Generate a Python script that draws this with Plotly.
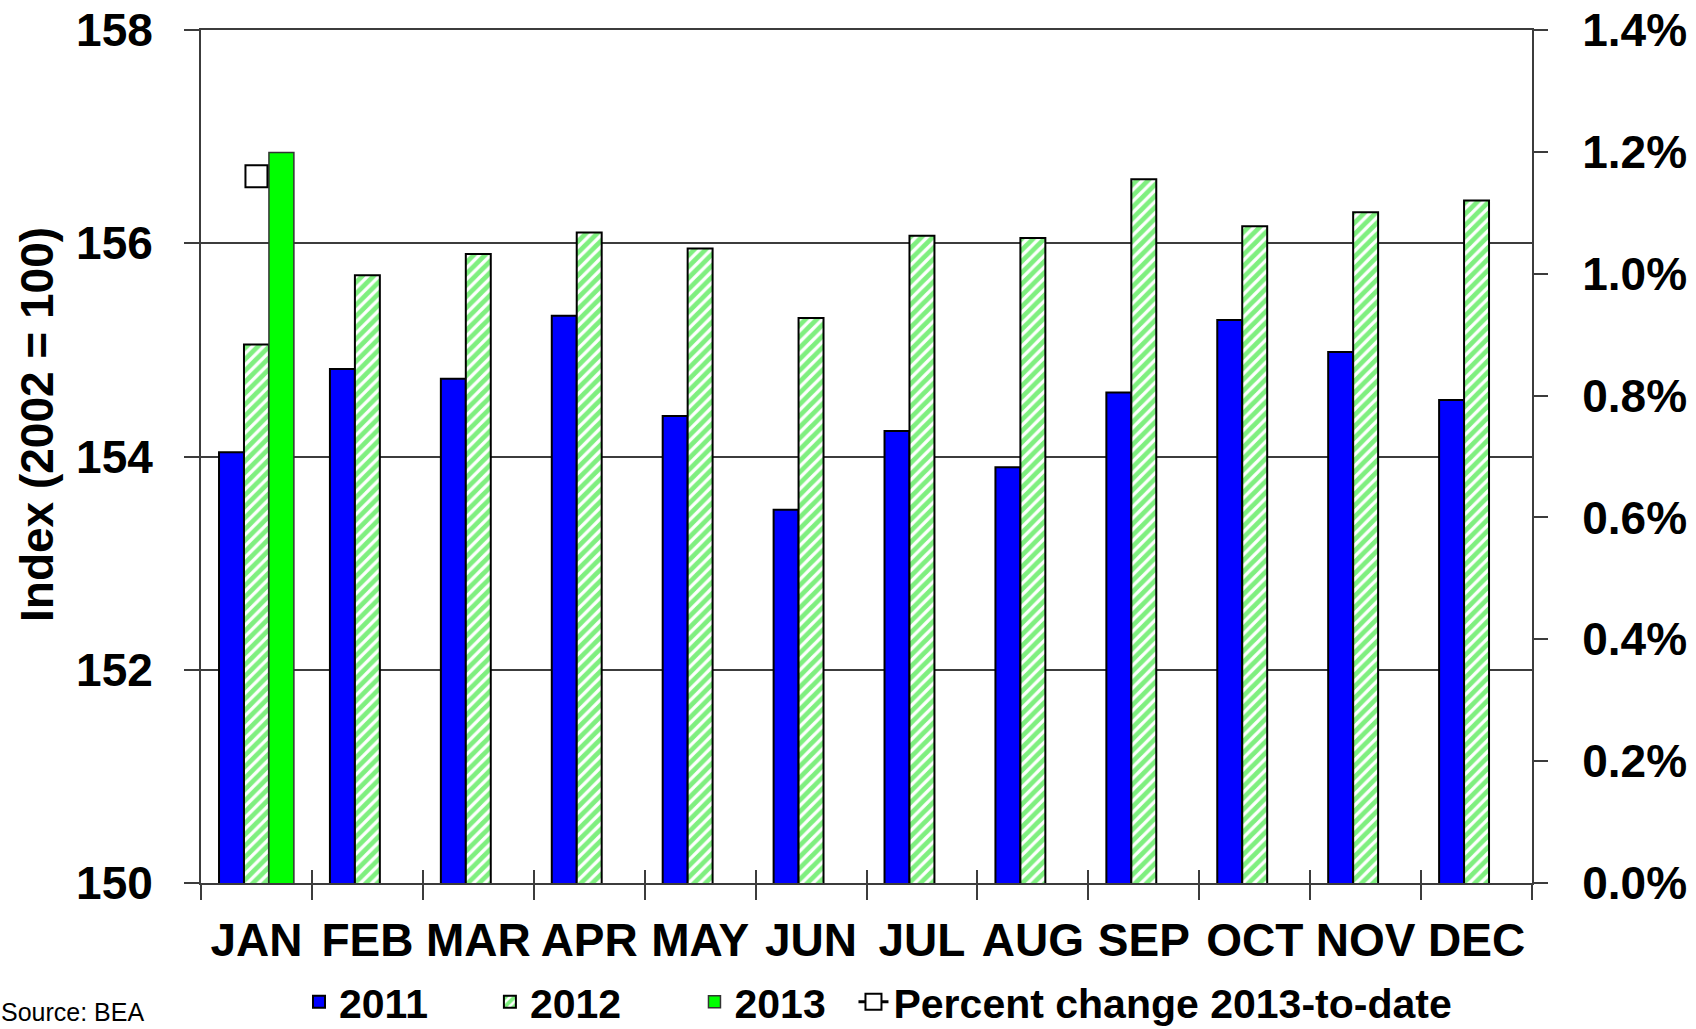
import plotly.graph_objects as go

months = ["JAN", "FEB", "MAR", "APR", "MAY", "JUN", "JUL", "AUG", "SEP", "OCT", "NOV", "DEC"]
idx_2011 = [154.04, 154.82, 154.73, 155.32, 154.38, 153.50, 154.24, 153.90, 154.60, 155.28, 154.98, 154.53]
idx_2012 = [155.05, 155.70, 155.90, 156.10, 155.95, 155.30, 156.07, 156.05, 156.60, 156.16, 156.29, 156.40]
idx_2013 = [156.85]
months_2013 = ["JAN"]
pct_2013 = [1.16]
pct_months = ["JAN"]
left_ticks = [150, 152, 154, 156, 158]
right_ticks = [0.0, 0.2, 0.4, 0.6, 0.8, 1.0, 1.2, 1.4]

W, H = 1696, 1029
L, R, T, B = 201, 164, 30, 146
pw, ph = W - L - R, H - T - B

def px_x(p):
    return (p - L) / pw

def px_y(p):
    return (H - B - p) / ph

FONT = "Arial, Liberation Sans, sans-serif"
AX = "#3c3c3c"
NB = "\u00a0"

fig = go.Figure()
fig.add_trace(go.Bar(
    x=months, y=idx_2011, name="2011" + NB * 5,
    marker=dict(color="#0000FF", line=dict(color="black", width=2)),
))
fig.add_trace(go.Bar(
    x=months, y=idx_2012, name="2012" + NB * 6,
    marker=dict(color="white", line=dict(color="black", width=2),
                pattern=dict(shape="/", fgcolor="#00E000", bgcolor="white", size=8, solidity=0.6)),
))
fig.add_trace(go.Bar(
    x=months_2013, y=idx_2013, name="2013" + NB * 2,
    marker=dict(color="#00FF00", line=dict(color="#333333", width=1.5)),
))
fig.add_trace(go.Scatter(
    x=pct_months, y=pct_2013, name="Percent change 2013-to-date", yaxis="y2",
    mode="lines+markers",
    line=dict(color="black", width=3),
    marker=dict(symbol="square", size=22, color="white", line=dict(color="black", width=2)),
))
# invisible helper trace for the crossing (inside) x ticks
fig.add_trace(go.Scatter(x=months, y=[None] * len(months), xaxis="x2", showlegend=False,
                         hoverinfo="skip", mode="markers"))

fig.update_layout(
    width=W, height=H,
    margin=dict(l=L, r=R, t=T, b=B, autoexpand=False),
    plot_bgcolor="white", paper_bgcolor="white",
    barmode="group", bargap=0.325, bargroupgap=0,
    font=dict(family=FONT, color="black"),
    xaxis=dict(
        type="category", categoryarray=months, categoryorder="array",
        range=[-0.5, 11.5], automargin=False,
        showline=True, linecolor=AX, linewidth=2, mirror=True,
        ticks="outside", ticklen=15, tickwidth=2, tickcolor=AX,
        tickson="boundaries", tickangle=0,
        tickfont=dict(family=FONT, size=46, weight="bold", color="black"),
        ticklabelstandoff=16,
        showgrid=False,
    ),
    xaxis2=dict(
        type="category", categoryarray=months, categoryorder="array",
        range=[-0.5, 11.5], overlaying="x", anchor="y", side="bottom", automargin=False,
        showline=False, ticks="inside", ticklen=13, tickwidth=2, tickcolor=AX,
        tickson="boundaries", showticklabels=False, showgrid=False,
    ),
    yaxis=dict(
        range=[150, 158], tickvals=left_ticks, ticktext=[str(v) for v in left_ticks],
        automargin=False,
        showline=True, linecolor=AX, linewidth=2,
        ticks="outside", ticklen=15, tickwidth=2, tickcolor=AX,
        showgrid=True, gridcolor=AX, gridwidth=2,
        zeroline=False,
        tickfont=dict(family=FONT, size=46, weight="bold", color="black"),
        ticklabelstandoff=22,
    ),
    yaxis2=dict(
        range=[0, 1.4], overlaying="y", side="right", anchor="x", automargin=False,
        tickvals=right_ticks, ticktext=[f"{v:.1f}%" for v in right_ticks],
        showline=True, linecolor=AX, linewidth=2,
        ticks="outside", ticklen=14, tickwidth=2, tickcolor=AX,
        showgrid=False, zeroline=False,
        tickfont=dict(family=FONT, size=46, weight="bold", color="black"),
        ticklabelstandoff=25,
    ),
    legend=dict(
        orientation="h", x=px_x(878), xanchor="center",
        yref="container", y=1 - 1002 / H, yanchor="middle",
        font=dict(family=FONT, size=41, weight="bold", color="black"),
        traceorder="normal", bgcolor="rgba(0,0,0,0)",
    ),
    annotations=[
        dict(text="Index (2002 = 100)", textangle=-90, xref="paper", yref="paper",
             x=px_x(37), y=px_y(425), xanchor="center", yanchor="middle", showarrow=False,
             font=dict(family=FONT, size=46, weight="bold", color="black")),
        dict(text="Source: BEA", xref="paper", yref="paper",
             x=px_x(-1), y=px_y(1028), xanchor="left", yanchor="bottom", showarrow=False,
             font=dict(family=FONT, size=25, color="black")),
    ],
)

fig.write_html("out.html", config={"displayModeBar": False},
               post_script="document.body.style.margin='0';document.body.style.overflow='hidden';")
